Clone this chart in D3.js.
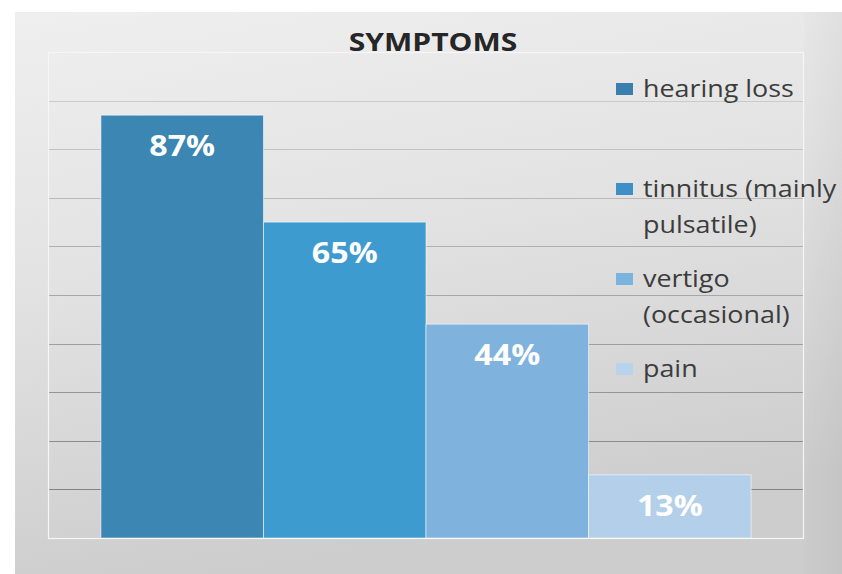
<!DOCTYPE html>
<html>
<head>
<meta charset="utf-8">
<script src="https://cdn.jsdelivr.net/npm/d3@7"></script>
<style>
  html, body { margin: 0; padding: 0; background: #fff; }
  svg { display: block; }
</style>
</head>
<body>
<div id="chart"></div>
<script>
// Symptoms — one category, four series, bars side by side, legend on the right

const title      = 'SYMPTOMS';
const series     = ['hearing loss', 'tinnitus (mainly pulsatile)', 'vertigo (occasional)', 'pain'];
const legendText = [['hearing loss'], ['tinnitus (mainly', 'pulsatile)'], ['vertigo', '(occasional)'], ['pain']];
const values     = [87, 65, 44, 13];
const yMax       = 100;

const barColors    = ['#3b86b3', '#3e9bd0', '#7fb3de', '#b4cfe9'];
const swatchColors = ['#3b7fae', '#3d8fc6', '#7ab3de', '#b8d3ec'];

const W = 842, H = 574;
const panel  = { x: 15, y: 12 };
const margin = { top: 52, right: 38, bottom: 36, left: 48 };
const stretch = 1.15; // text in the picture is wider than the font

const svg = d3.select('#chart').append('svg').attr('width', W).attr('height', H);
const defs = svg.append('defs');

const bg = defs.append('linearGradient').attr('id', 'bg')
  .attr('x1', 0).attr('y1', 0).attr('x2', 0.25).attr('y2', 1);
bg.append('stop').attr('offset', '0%').attr('stop-color', '#efefef');
bg.append('stop').attr('offset', '45%').attr('stop-color', '#e3e3e3');
bg.append('stop').attr('offset', '100%').attr('stop-color', '#cdcdcd');

svg.append('rect')
  .attr('x', panel.x).attr('y', panel.y)
  .attr('width', W - panel.x).attr('height', H - panel.y)
  .attr('fill', 'url(#bg)');

// a slightly darker band right of the plot
const side = defs.append('linearGradient').attr('id', 'side')
  .attr('x1', 0).attr('y1', 0).attr('x2', 1).attr('y2', 0);
side.append('stop').attr('offset', '0%').attr('stop-color', '#000').attr('stop-opacity', 0.01);
side.append('stop').attr('offset', '100%').attr('stop-color', '#000').attr('stop-opacity', 0.04);
svg.append('rect')
  .attr('x', W - margin.right).attr('y', panel.y)
  .attr('width', margin.right).attr('height', H - panel.y)
  .attr('fill', 'url(#side)');

const x0 = margin.left, x1 = W - margin.right;
const y0 = margin.top,  y1 = H - margin.bottom;

const y = d3.scaleLinear().domain([0, yMax]).range([y1, y0]);

const group = d3.scaleBand().domain(['symptoms']).range([x0, x1])
  .paddingInner(0.14).paddingOuter(0.07);
const x = d3.scaleBand().domain(series).range([0, group.bandwidth()]);

const g = svg.append('g');

// gridlines: lighter near the top, darker near the bottom
const gridShade = d3.scaleLinear().domain([yMax, 0]).range(['#d4d4d4', '#7a7a7a']);
g.append('g').selectAll('line')
  .data(y.ticks(10).filter(d => d > 0 && d < yMax))
  .join('line')
  .attr('x1', x0).attr('x2', x1)
  .attr('y1', d => Math.round(y(d)) + 0.5).attr('y2', d => Math.round(y(d)) + 0.5)
  .attr('stroke', d => gridShade(d))
  .attr('stroke-width', 1.2);

// plot frame
g.append('rect')
  .attr('x', x0 + 0.5).attr('y', y0 + 0.5)
  .attr('width', x1 - x0 - 1).attr('height', y1 - y0)
  .attr('fill', 'none')
  .attr('stroke', '#f6f6f6')
  .attr('stroke-width', 1.2);

// bars
const bars = g.append('g').attr('transform', `translate(${group('symptoms')},0)`);
bars.selectAll('rect')
  .data(values)
  .join('rect')
  .attr('x', (d, i) => x(series[i]))
  .attr('y', d => y(d))
  .attr('width', x.bandwidth())
  .attr('height', d => y(0) - y(d))
  .attr('fill', (d, i) => barColors[i])
  .attr('stroke', 'rgba(255,255,255,0.55)')
  .attr('stroke-width', 1);

bars.selectAll('g.lbl')
  .data(values)
  .join('g')
  .attr('class', 'lbl')
  .attr('transform', (d, i) => `translate(${x(series[i]) + x.bandwidth() / 2},${y(d) + 41}) scale(${stretch},1)`)
  .append('text')
  .attr('text-anchor', 'middle')
  .attr('font-family', '"Open Sans", sans-serif')
  .attr('font-weight', 700)
  .attr('font-size', 28)
  .attr('fill', '#fff')
  .text(d => d + '%');

// title
svg.append('g')
  .attr('transform', `translate(433,51) scale(${stretch + 0.05},1)`)
  .append('text')
  .attr('text-anchor', 'middle')
  .attr('font-family', '"Open Sans", sans-serif')
  .attr('font-weight', 700)
  .attr('font-size', 25)
  .attr('fill', '#262626')
  .text(title);

// legend
const legendTop = [83, 183, 273, 363];
const legend = svg.append('g').selectAll('g')
  .data(series)
  .join('g')
  .attr('transform', (d, i) => `translate(616,${legendTop[i]})`);

legend.append('rect')
  .attr('width', 17).attr('height', 12)
  .attr('fill', (d, i) => swatchColors[i]);

legend.each(function (d, i) {
  legendText[i].forEach((line, j) => {
    d3.select(this).append('g')
      .attr('transform', `translate(27,${14 + j * 36}) scale(1.12,1)`)
      .append('text')
      .attr('font-family', '"Open Sans", sans-serif')
      .attr('font-size', 24)
      .attr('fill', '#3c3c3c')
      .text(line);
  });
});
</script>
</body>
</html>
